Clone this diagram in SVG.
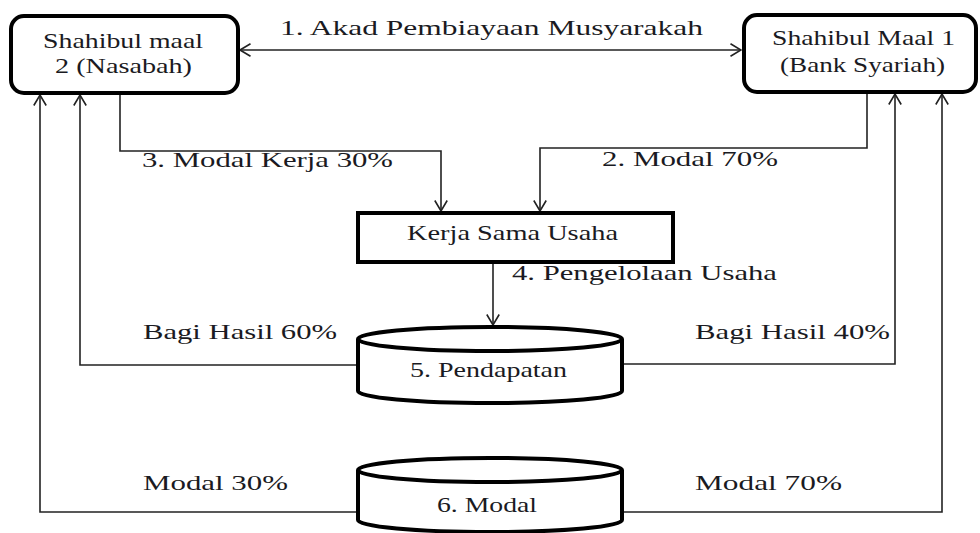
<svg xmlns="http://www.w3.org/2000/svg" width="980" height="533" viewBox="0 0 980 533">
<style>
text{font-family:"Liberation Serif",Tinos,"Times New Roman",Times,"DejaVu Serif","Noto Serif",FreeSerif,serif;font-size:21px;fill:#1a1a22}
.box{fill:#fff;stroke:#000;stroke-width:4}
.cyl{fill:#fff;stroke:#000;stroke-width:4}
.ln{fill:none;stroke:#222;stroke-width:1.6}
</style>
<defs>
<marker id="ah" viewBox="0 0 12 14" refX="11.5" refY="7" markerWidth="12" markerHeight="14" markerUnits="userSpaceOnUse" orient="auto-start-reverse">
<path d="M1,0.8 L11.5,7 L1,13.2" fill="none" stroke="#222" stroke-width="1.6"/>
</marker>
</defs>
<g id="connectors">
<line class="ln" x1="240" y1="50" x2="741" y2="50" marker-start="url(#ah)" marker-end="url(#ah)"/>
<polyline class="ln" points="120,93 120,151 441,151 441,211" marker-end="url(#ah)"/>
<polyline class="ln" points="867,92 867,148 540,148 540,211" marker-end="url(#ah)"/>
<line class="ln" x1="493" y1="262" x2="493" y2="325" marker-end="url(#ah)"/>
<polyline class="ln" points="358,365 80,365 80,95" marker-end="url(#ah)"/>
<polyline class="ln" points="622,364 895,364 895,94" marker-end="url(#ah)"/>
<polyline class="ln" points="358,512 40,512 40,95" marker-end="url(#ah)"/>
<polyline class="ln" points="622,512 942,512 942,94" marker-end="url(#ah)"/>
<text x="280" y="35" textLength="423" lengthAdjust="spacingAndGlyphs">1. Akad Pembiayaan Musyarakah</text>
<text x="142" y="167" textLength="251" lengthAdjust="spacingAndGlyphs">3. Modal Kerja 30%</text>
<text x="602" y="166" textLength="176" lengthAdjust="spacingAndGlyphs">2. Modal 70%</text>
<text x="512" y="280" textLength="265" lengthAdjust="spacingAndGlyphs">4. Pengelolaan Usaha</text>
<text x="143" y="339" textLength="194" lengthAdjust="spacingAndGlyphs">Bagi Hasil 60%</text>
<text x="695" y="339" textLength="195" lengthAdjust="spacingAndGlyphs">Bagi Hasil 40%</text>
<text x="143" y="490" textLength="145" lengthAdjust="spacingAndGlyphs">Modal 30%</text>
<text x="695" y="490" textLength="147" lengthAdjust="spacingAndGlyphs">Modal 70%</text>
</g>
<g id="nasabah">
<rect class="box" x="11" y="16" width="227" height="77" rx="13"/>
<text x="43" y="48" textLength="160" lengthAdjust="spacingAndGlyphs">Shahibul maal</text>
<text x="55" y="73" textLength="137" lengthAdjust="spacingAndGlyphs">2 (Nasabah)</text>
</g>
<g id="bank">
<rect class="box" x="744" y="15" width="232" height="77" rx="13"/>
<text x="772" y="45" textLength="183" lengthAdjust="spacingAndGlyphs">Shahibul Maal 1</text>
<text x="780" y="72" textLength="165" lengthAdjust="spacingAndGlyphs">(Bank Syariah)</text>
</g>
<g id="kerjasama">
<rect class="box" x="358" y="213" width="315" height="49"/>
<text x="407" y="240" textLength="211" lengthAdjust="spacingAndGlyphs">Kerja Sama Usaha</text>
</g>
<g id="pendapatan">
<path class="cyl" d="M358,339 L358,391 A132,12 0 0 0 622,391 L622,339"/>
<ellipse class="cyl" cx="490" cy="339" rx="132" ry="12"/>
<text x="410" y="377" textLength="157" lengthAdjust="spacingAndGlyphs">5. Pendapatan</text>
</g>
<g id="modal">
<path class="cyl" d="M358,470 L358,520 A132,12 0 0 0 622,520 L622,470"/>
<ellipse class="cyl" cx="490" cy="470" rx="132" ry="12"/>
<text x="437" y="512" textLength="100" lengthAdjust="spacingAndGlyphs">6. Modal</text>
</g>
</svg>
